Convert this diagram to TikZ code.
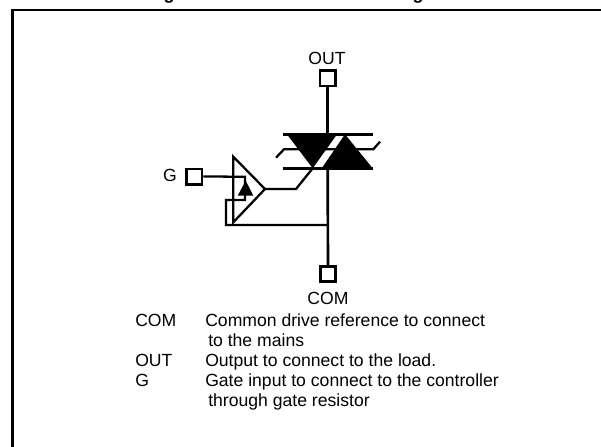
\documentclass[tikz,border=0pt]{standalone}
\usepackage{fontspec}
\setmainfont{Liberation Sans}
\usetikzlibrary{positioning,calc}
\tikzset{>=stealth}
\tikzset{
  wire/.style={line width=2pt},
  thin wire/.style={line width=1.7pt},
  pad/.style={draw,line width=2pt,minimum size=11.5pt,inner sep=0pt},
  txt/.style={anchor=base west,inner sep=0pt,font=\fontsize{13.2}{15}\selectfont},
  pin/.style={anchor=base,inner sep=0pt,font=\fontsize{13.2}{15}\selectfont},
}

\begin{document}
\begin{tikzpicture}[x=.75pt,y=-.75pt]
% Scale in pixels of the reference
\path[use as bounding box,clip] (0,0) rectangle (601,447);

% Frame, open on the right and at the bottom
\coordinate (FL) at (12.5,447);
\coordinate (FC) at (12.5,10);
\coordinate (FR) at (601,10);
\draw[line width=2.1pt,miter limit=10] (FL) -- (FC) -- (FR);

% What is left of the title
\node[pin,font=\fontsize{13.5}{15}\selectfont\bfseries] (t1) at (169,-.3) {g};
\node[pin,font=\fontsize{13.5}{15}\selectfont\bfseries] (t2) at (418,-.3) {g};

% Pads
\node[pad] (OUT) at (327.7,78.4) {};
\node[pad] (COM) at (328,274) {};
\node[pad] (G) at (194.3,176.5) {};
\node[pin] (lOUT) at (327,64) {OUT};
\node[pin] (lCOM) at (328,304) {COM};
\node[pin] (lG) at (170,181.5) {G};

% Triac
\coordinate (T) at (327.7,134.3);
\coordinate (B) at (327.7,168.3);
\coordinate (J) at (327.7,225);
\fill (287,134.3) -- (337,134.3) -- (312.7,168.3) -- cycle;
\fill (345,134.3) -- (321.7,168.3) -- (372.7,168.3) -- cycle;
\draw[wire] (282.7,134.3) -- (372.7,134.3);
\draw[wire] (282.7,168.3) -- (372.7,168.3);
\draw[thin wire] (276,157.7) -- (284,149.3) -- (373.3,149.3) -- (380,141.7);

% Main terminal
\draw[wire] (OUT) -- (T);
\draw[wire] (B) -- (COM);

% Driver
\coordinate (DA) at (233.3,156.7);
\coordinate (DB) at (233.3,222.3);
\coordinate (DC) at (265,189);
\draw[thin wire,line join=miter] (DA) -- (DC) -- (DB) -- cycle;
\fill (245.7,180.7) -- (253.3,195.7) -- (237.7,195.7) -- cycle;

% Gate output to triac
\draw[thin wire] (DC) -- (296,189) -- (312.7,168.3);

% Gate input and return
\draw[thin wire] (G) -- (245,176.7) -- (245,200) -- (226,200) -- (226,225) -- (J);

% Legend
\node[txt] (c1) at (135,326.7) {COM};
\node[txt] (d1) at (205,326.7) {Common drive reference to connect};
\node[txt] (d2) at (208,346.7) {to the mains};
\node[txt] (c2) at (135,366.7) {OUT};
\node[txt] (d3) at (205,366.7) {Output to connect to the load.};
\node[txt] (c3) at (135,386.7) {G};
\node[txt] (d4) at (205,386.7) {Gate input to connect to the controller};
\node[txt] (d5) at (208,406.7) {through gate resistor};

\end{tikzpicture}
\end{document}
